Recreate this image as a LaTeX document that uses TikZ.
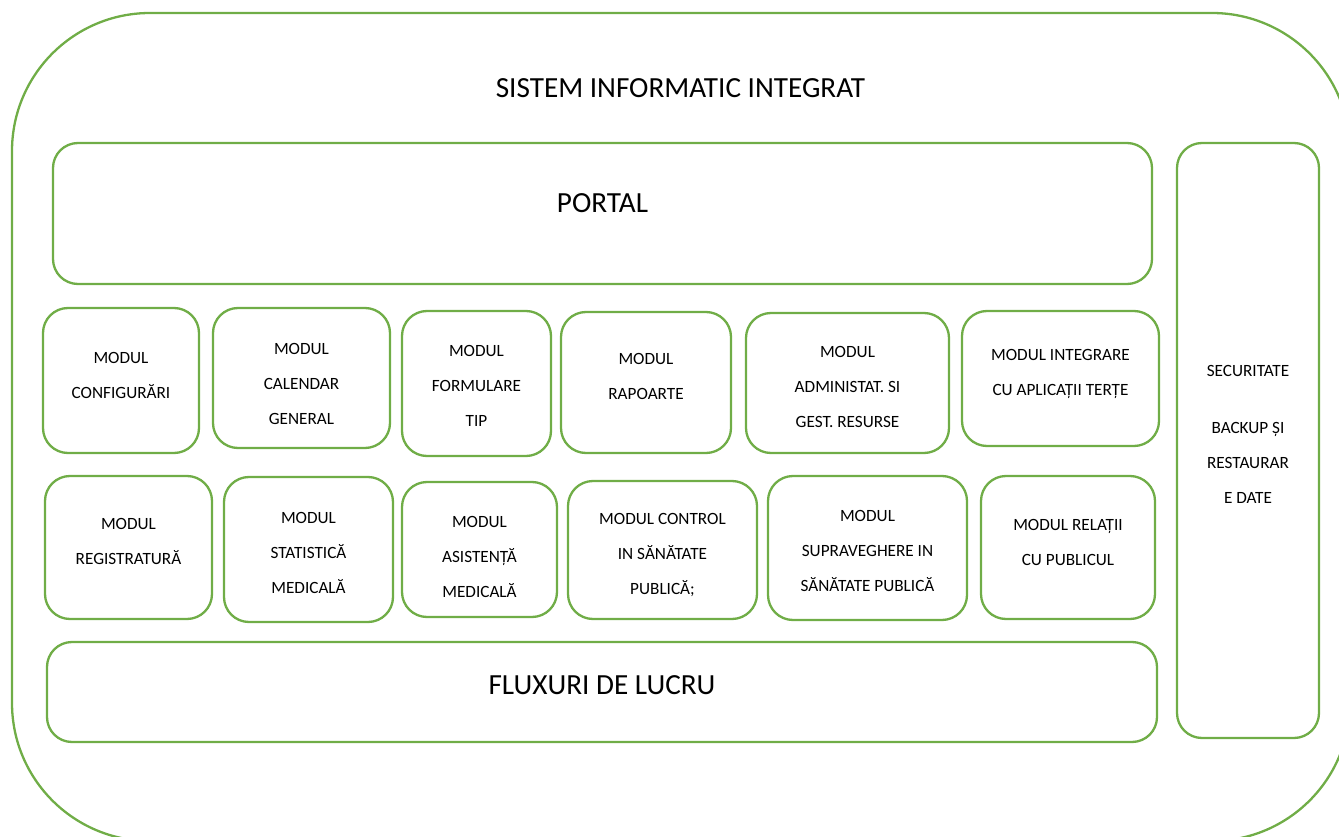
\documentclass[tikz,border=0pt]{standalone}
\usepackage{fontspec}
\setmainfont{Carlito}
\definecolor{verde}{HTML}{70AD47}
\tikzset{
  cutie/.style = {draw=verde, line width=2.3pt, rounded corners=25pt, inner sep=0pt},
  modtext/.style = {align=center, inner sep=0pt, font=\fontsize{17.2}{35}\selectfont},
  titlu/.style = {font=\fontsize{29.2}{35}\selectfont}
}
% nume, centru, latime, inaltime, deplasare text, text
\newcommand{\modul}[6]{%
  \node[cutie, minimum width=#3, minimum height=#4,
    label={[modtext, name=#1-t, yshift=#5]center:{#6}}] (#1) at (#2) {};}

\begin{document}
\begin{tikzpicture}[x=1pt,y=-1pt]
  \useasboundingbox (0,0) rectangle (1339,837);
  \clip (0,0) rectangle (1339,837);
  % contur exterior
  \draw[verde, line width=2.3pt, rounded corners=138pt] (12,13) rectangle (1350,841);
  \node[titlu] (sit) at (680.5,88) {SISTEM INFORMATIC INTEGRAT};
  % portal
  \node[cutie, minimum width=1099, minimum height=141] (portal) at (602.5,213.5) {};
  \node[titlu] (portal-t) at ([yshift=10pt]portal.center) {PORTAL};
  % securitate
  \modul{sec}{1248,440.5}{142}{595}{6pt}{SECURITATE\\[22pt]BACKUP ȘI\\RESTAURAR\\E DATE}
  % module, randul 1
  \modul{cfg}{121,380.5}{156}{145}{5pt}{MODUL\\CONFIGURĂRI}
  \modul{cal}{301.5,378}{177}{140}{-6pt}{MODUL\\CALENDAR\\GENERAL}
  \modul{frm}{476.5,383.5}{149}{145}{-2pt}{MODUL\\FORMULARE\\TIP}
  \modul{rap}{646,382.5}{170}{141}{6pt}{MODUL\\RAPOARTE}
  \modul{adm}{847.5,383}{203}{140}{-4pt}{MODUL\\ADMINISTAT. SI\\GEST. RESURSE}
  \modul{intg}{1060.5,378.5}{197}{135}{5pt}{MODUL INTEGRARE\\CU APLICAȚII TERȚE}
  % module, randul 2
  \modul{reg}{128.5,547.5}{167}{143}{6.5pt}{MODUL\\REGISTRATURĂ}
  \modul{stat}{308.5,549.5}{169}{145}{-3.5pt}{MODUL\\STATISTICĂ\\MEDICALĂ}
  \modul{asis}{479.5,549.5}{155}{135}{-7pt}{MODUL\\ASISTENȚĂ\\MEDICALĂ}
  \modul{ctrl}{662.5,550}{189}{138}{-5.5pt}{MODUL CONTROL\\IN SĂNĂTATE\\PUBLICĂ;}
  \modul{supr}{867.5,548}{199}{144}{-2.5pt}{MODUL\\SUPRAVEGHERE IN\\SĂNĂTATE PUBLICĂ}
  \modul{rel}{1068,547.5}{174}{143}{5.5pt}{MODUL RELAȚII\\CU PUBLICUL}
  % fluxuri
  \node[cutie, minimum width=1110, minimum height=100] (flux) at (602,692) {};
  \node[titlu] (flux-t) at ([yshift=7pt]flux.center) {FLUXURI DE LUCRU};
\end{tikzpicture}
\end{document}
